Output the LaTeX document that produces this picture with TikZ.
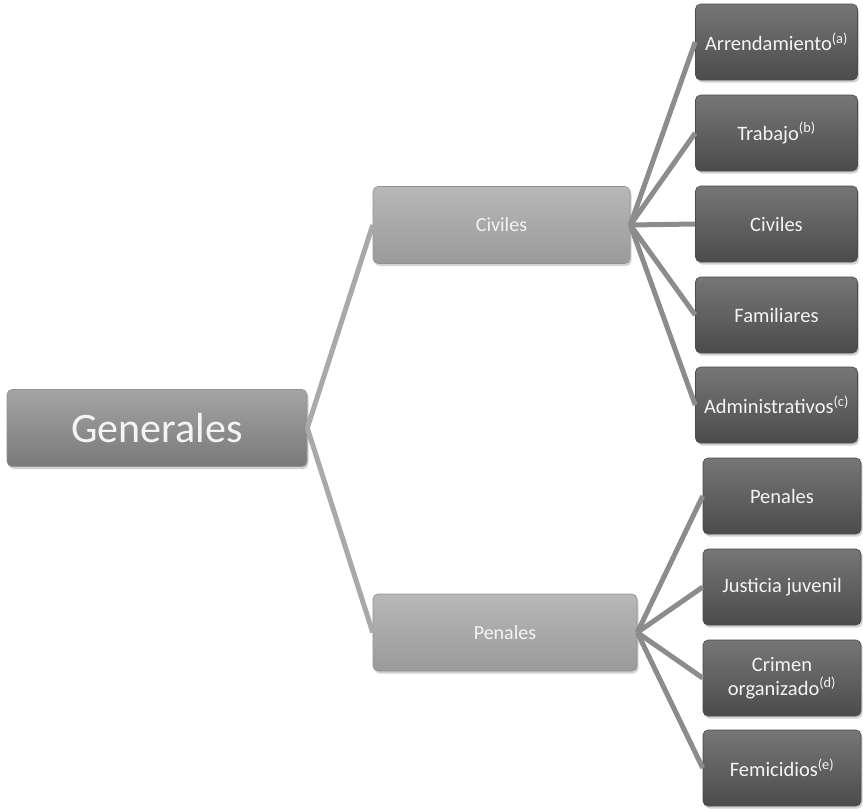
\documentclass[tikz,border=0pt]{standalone}
\usepackage{fontspec}
\setmainfont{Carlito}
\usepackage{xcolor}
\usepackage{tikz}
\usetikzlibrary{shadows}
\definecolor{bg}{HTML}{FFFFFF}
\definecolor{rootfill}{HTML}{8E8E8E}
\definecolor{midfill}{HTML}{ABABAB}
\definecolor{leaffill}{HTML}{5E5E5E}
\definecolor{edge}{HTML}{4A4A4A}
\definecolor{linklight}{HTML}{A9A9A9}
\definecolor{linkdark}{HTML}{8C8C8C}
\definecolor{txt}{HTML}{F4F4F4}
\tikzset{
  box/.style={draw=edge!60, line width=0.6pt, rounded corners=5pt, text=txt,
    align=center, inner sep=2pt,
    drop shadow={shadow xshift=1.5pt, shadow yshift=-2.5pt, opacity=0.35}},
  root/.style={box, top color=rootfill!80!white, bottom color=rootfill!85!black,
    minimum width=300pt, minimum height=77pt, font=\fontsize{42}{46}\selectfont},
  mid/.style={box, top color=midfill!85!white, bottom color=midfill!90!black,
    minimum width=260pt, minimum height=77pt, font=\fontsize{20}{23}\selectfont},
  leaf/.style={box, draw=edge, top color=leaffill!85!white, bottom color=leaffill!80!black,
    minimum width=162pt, minimum height=76pt, font=\fontsize{20.5}{24}\selectfont},
  link/.style={draw=linklight, line width=5pt},
  sublink/.style={draw=linkdark, line width=5pt},
}

\begin{document}
\begin{tikzpicture}[x=1pt,y=-1pt]
  \useasboundingbox[fill=bg] (0,0) rectangle (863,809);

  % left to right: root, two branches, leaves
  \node[root] (gen) at (157,428) {Generales};
  \node[mid,minimum width=257pt] (civ) at (501.5,225) {Civiles};
  \node[mid,minimum width=264pt] (pen) at (505,632.5) {Penales};

  \node[leaf] (arr)  at (776.5,42)  {Arrendamiento\textsuperscript{(a)}};
  \node[leaf] (trab) at (776.5,133) {Trabajo\textsuperscript{(b)}};
  \node[leaf] (civr) at (776.5,224) {Civiles};
  \node[leaf] (fam)  at (776.5,315) {Familiares};
  \node[leaf] (adm)  at (776.5,405) {Administrativos\textsuperscript{(c)}};

  \node[leaf,minimum width=158pt] (penr) at (782,496) {Penales};
  \node[leaf,minimum width=158pt] (juv)  at (782,587) {Justicia juvenil};
  \node[leaf,minimum width=158pt] (crim) at (782,678) {Crimen\\organizado\textsuperscript{(d)}};
  \node[leaf,minimum width=158pt] (fem)  at (782,768) {Femicidios\textsuperscript{(e)}};

  \draw[link] (gen.east) -- (civ.west);
  \draw[link] (gen.east) -- (pen.west);
  \foreach \n in {arr,trab,civr,fam,adm}
    \draw[sublink] (civ.east) -- (\n.west);
  \foreach \n in {penr,juv,crim,fem}
    \draw[sublink] (pen.east) -- (\n.west);
\end{tikzpicture}
\end{document}
